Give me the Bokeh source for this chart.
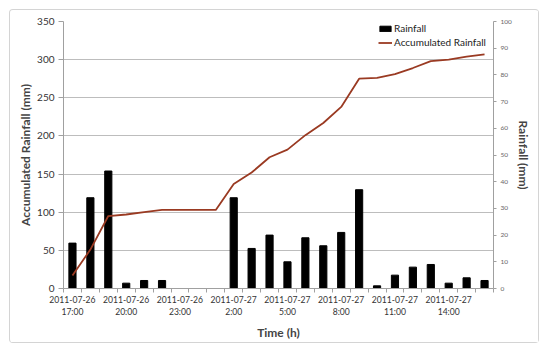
from bokeh.plotting import figure
from bokeh.models import Range1d, LinearAxis, FixedTicker
from bokeh.embed import file_html
from bokeh.resources import INLINE

# ---- data ----
times = ["2011-07-26 17:00", "2011-07-26 18:00", "2011-07-26 19:00", "2011-07-26 20:00",
         "2011-07-26 21:00", "2011-07-26 22:00", "2011-07-26 23:00", "2011-07-27 0:00",
         "2011-07-27 1:00", "2011-07-27 2:00", "2011-07-27 3:00", "2011-07-27 4:00",
         "2011-07-27 5:00", "2011-07-27 6:00", "2011-07-27 7:00", "2011-07-27 8:00",
         "2011-07-27 9:00", "2011-07-27 10:00", "2011-07-27 11:00", "2011-07-27 12:00",
         "2011-07-27 13:00", "2011-07-27 14:00", "2011-07-27 15:00", "2011-07-27 16:00"]
rainfall = [17, 34, 44, 2, 3, 3, 0, 0, 0, 34, 15, 20, 10, 19, 16, 21, 37, 1, 5, 8, 9, 2, 4, 3]
accumulated = [17, 51, 95, 97, 100, 103, 103, 103, 103, 137, 152, 172, 182, 201, 217, 238,
               275, 276, 281, 289, 298, 300, 304, 307]
left_ticks = [0, 50, 100, 150, 200, 250, 300, 350]
right_ticks = [0, 10, 20, 30, 40, 50, 60, 70, 80, 90, 100]
label_step = 3

FONT = "Lato"
x = list(range(len(times)))
n = len(times)

p = figure(width=528, height=332, output_backend="svg", toolbar_location=None,
           x_range=Range1d(-0.5, n - 0.5), y_range=Range1d(left_ticks[0], left_ticks[-1]),
           min_border_left=53, min_border_right=45, min_border_top=11, min_border_bottom=51,
           background_fill_color="white", border_fill_color="white",
           styles={"margin-left": "10px", "margin-top": "10px",
                   "box-shadow": "0 0 0 1px #d4d4d4", "border-radius": "3px"})
p.outline_line_color = None
p.extra_y_ranges = {"rain": Range1d(right_ticks[0], right_ticks[-1])}

# bars (right axis) and accumulated line (left axis)
p.vbar(x=x, top=rainfall, width=0.4, fill_color="black", line_color="black",
       y_range_name="rain", legend_label="Rainfall")
p.line(x, accumulated, line_color="#9a3a22", line_width=1.8,
       legend_label="Accumulated Rainfall")

# x axis
xa = p.xaxis[0]
xa.ticker = FixedTicker(ticks=x[::label_step], minor_ticks=[i - 0.5 for i in range(n + 1)])
xa.major_label_overrides = {i: times[i].replace(" ", "\n") for i in x[::label_step]}
xa.major_tick_line_color = None
xa.major_tick_out = 4
xa.major_tick_in = 0
xa.minor_tick_out = 4
xa.minor_tick_in = 0
xa.minor_tick_line_color = "#a0a0a0"
xa.axis_line_color = "#a0a0a0"
xa.major_label_standoff = 2
xa.major_label_text_font = FONT
xa.major_label_text_font_size = "8.6px"
xa.major_label_text_color = "#333333"
xa.axis_label = "Time (h)"
xa.axis_label_text_font = FONT
xa.axis_label_text_font_style = "bold"
xa.axis_label_text_font_size = "12px"
xa.axis_label_standoff = 5

# left axis
ya = p.yaxis[0]
ya.ticker = FixedTicker(ticks=left_ticks)
ya.minor_tick_line_color = None
ya.major_tick_out = 5
ya.major_tick_in = 0
ya.major_tick_line_color = "#a0a0a0"
ya.axis_line_color = "#a0a0a0"
ya.major_label_standoff = 4
ya.major_label_text_font = FONT
ya.major_label_text_font_size = "10px"
ya.major_label_text_color = "#333333"
ya.axis_label = "Accumulated Rainfall (mm)"
ya.axis_label_text_font = FONT
ya.axis_label_text_font_style = "bold"
ya.axis_label_text_font_size = "12px"
ya.axis_label_standoff = 1

# right axis
ra = LinearAxis(y_range_name="rain", ticker=FixedTicker(ticks=right_ticks),
                axis_label="Rainfall (mm)")
ra.minor_tick_line_color = None
ra.major_tick_out = 3
ra.major_tick_in = 0
ra.major_tick_line_color = "#a0a0a0"
ra.axis_line_color = "#a0a0a0"
ra.major_label_standoff = 4
ra.major_label_text_font = FONT
ra.major_label_text_font_size = "6.5px"
ra.major_label_text_color = "#666666"
ra.axis_label_text_font = FONT
ra.axis_label_text_font_style = "bold"
ra.axis_label_text_font_size = "12px"
ra.axis_label_standoff = 1
p.add_layout(ra, "right")

# grid
p.xgrid.grid_line_color = None
p.ygrid.ticker = FixedTicker(ticks=left_ticks)
p.ygrid.grid_line_color = "#bdbdbd"

# legend
lg = p.legend[0]
lg.location = (315, 239)
lg.padding = 0
lg.margin = 0
lg.spacing = 0
lg.border_line_color = None
lg.background_fill_alpha = 0
lg.glyph_width = 14
lg.glyph_height = 7
lg.label_height = 14
lg.label_standoff = 2
lg.label_text_font = FONT
lg.label_text_font_size = "10px"
lg.label_text_color = "#222222"

open("out.html", "w").write(file_html(p, INLINE))
